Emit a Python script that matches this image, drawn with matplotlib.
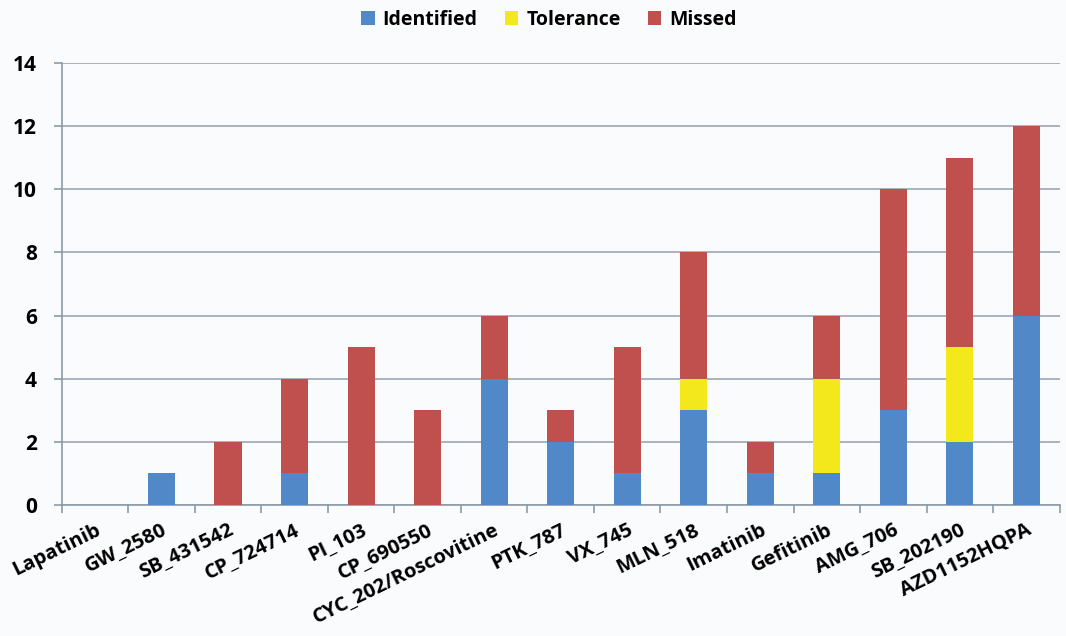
import matplotlib.pyplot as plt
import numpy as np

plt.rcParams['font.family'] = ['Open Sans', 'DejaVu Sans']
plt.rcParams['font.weight'] = 'bold'

compounds = ['Lapatinib', 'GW_2580', 'SB_431542', 'CP_724714', 'PI_103', 'CP_690550',
             'CYC_202/Roscovitine', 'PTK_787', 'VX_745', 'MLN_518', 'Imatinib',
             'Gefitinib', 'AMG_706', 'SB_202190', 'AZD1152HQPA']
identified = [0, 1, 0, 1, 0, 0, 4, 2, 1, 3, 1, 1, 3, 2, 6]
tolerance = [0, 0, 0, 0, 0, 0, 0, 0, 0, 1, 0, 3, 0, 3, 0]
missed = [0, 0, 2, 3, 5, 3, 2, 1, 4, 4, 1, 2, 7, 6, 6]

bg = '#fafbfd'
fig = plt.figure(figsize=(10.66, 6.36), dpi=100, facecolor=bg)
ax = fig.add_axes([0.058, 0.206, 0.936, 0.695], facecolor=bg)

x = np.arange(len(compounds))
ident = np.array(identified)
tol = np.array(tolerance)
miss = np.array(missed)
w = 0.41
ax.bar(x, ident, w, color='#5088c8', label='Identified', zorder=3)
ax.bar(x, tol, w, bottom=ident, color='#f2e81c', label='Tolerance', zorder=3)
ax.bar(x, miss, w, bottom=ident + tol, color='#c0504d', label='Missed', zorder=3)

ax.set_xlim(-0.5, len(compounds) - 0.5)
ax.set_ylim(0, 14)
ax.set_yticks(range(0, 15, 2))
ax.yaxis.grid(True, color='#9aa8b4', linewidth=1.2, zorder=0)
ax.set_axisbelow(True)

ax.set_xticks(x)
ax.set_xticklabels(compounds, rotation=26, ha='right', rotation_mode='anchor', fontsize=14.5)
ax.set_xticks(np.arange(-0.5, len(compounds)), minor=True)
ax.tick_params(axis='x', which='major', length=0, pad=11)
ax.tick_params(axis='x', which='minor', length=6, color='#8c9aa6', width=1.2)
ax.tick_params(axis='y', length=6, color='#8c9aa6', width=1.2, labelsize=15, pad=12)

for s in ['top', 'right']:
    ax.spines[s].set_visible(False)
for s in ['left', 'bottom']:
    ax.spines[s].set_color('#8c9aa6')
    ax.spines[s].set_linewidth(1.2)

leg = fig.legend(loc='upper center', bbox_to_anchor=(0.515, 1.012), ncol=3, frameon=False,
                 fontsize=14, handlelength=0.7, handleheight=0.7, handletextpad=0.4,
                 columnspacing=1.4)

fig.savefig('out.png', dpi=100, facecolor=bg)
